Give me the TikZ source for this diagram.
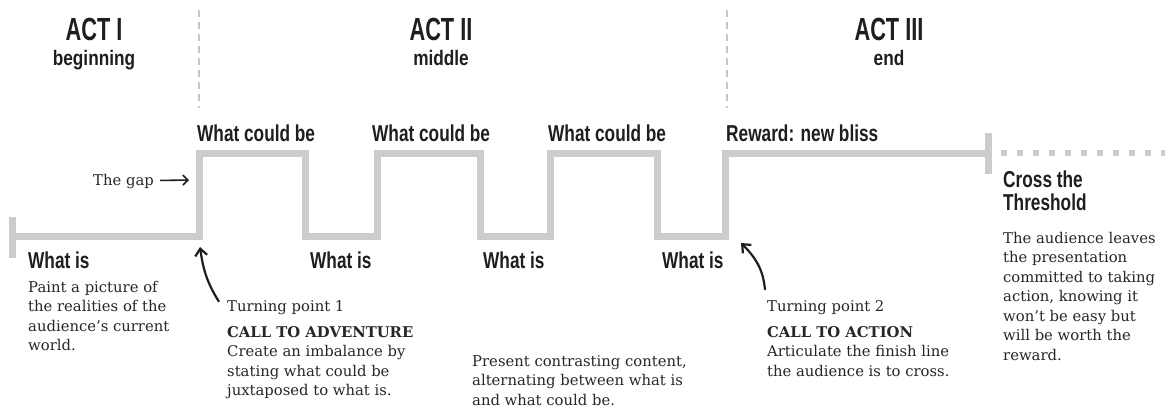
\documentclass[tikz,border=0pt]{standalone}
\usepackage{fontspec}
\setmainfont{DejaVu Serif}
\newfontfamily\condfont[FakeStretch=0.75]{Liberation Sans}
\newfontfamily\actfont[FakeStretch=0.68]{Liberation Sans}
\newfontfamily\subfont[FakeStretch=0.82]{Liberation Sans}
\usetikzlibrary{arrows.meta,positioning}
\definecolor{trackgray}{HTML}{CCCCCC}
\definecolor{inkdark}{HTML}{1E1E1E}
\definecolor{inkbody}{HTML}{262626}

\begin{document}
\begin{tikzpicture}[x=1pt,y=1pt,
  track/.style={line width=7pt, draw=trackgray, line join=miter},
  actdiv/.style={draw=gray!45, line width=1.6pt, dash pattern=on 7pt off 5pt},
  actlabel/.style={font=\actfont\bfseries\fontsize{32}{34}\selectfont, text=inkdark, inner sep=0pt, anchor=base},
  actsub/.style={font=\subfont\bfseries\fontsize{21}{23}\selectfont, text=inkdark, inner sep=0pt, anchor=base},
  steplabel/.style={font=\condfont\bfseries\fontsize{23}{23}\selectfont, text=inkdark, inner sep=0pt, anchor=base west, align=left},
  note/.style={font=\fontsize{14.8}{19.5}\selectfont, text=inkbody, inner sep=0pt, anchor=base west, align=left},
  bentarr/.style={line width=2.2pt, draw=inkdark, -{Straight Barb[length=7pt,width=12pt,line width=2.2pt]}},
  gaparr/.style={line width=1.6pt, draw=inkdark, -{Straight Barb[length=5pt,width=10pt,line width=1.6pt]}}
]
\useasboundingbox (0,0) rectangle (1171,-407);

% act headings
\draw[actdiv] (199,-10) -- (199,-108);
\draw[actdiv] (727,-10) -- (727,-108);
\node[actlabel] (act1) at (94,-40) {ACT I};
\node[actsub] (act1sub) at (94,-65) {beginning};
\node[actlabel] (act2) at (441,-40) {ACT II};
\node[actsub] (act2sub) at (441,-65) {middle};
\node[actlabel] (act3) at (889,-40) {ACT III};
\node[actsub] (act3sub) at (889,-65) {end};

% the track
\draw[track] (12,-236) -- (199,-236) -- (199,-153) -- (305,-153) -- (305,-236)
  -- (377,-236) -- (377,-153) -- (480,-153) -- (480,-236)
  -- (550,-236) -- (550,-153) -- (657,-153) -- (657,-236)
  -- (725,-236) -- (725,-153) -- (988,-153);
\draw[track] (12,-217) -- (12,-258);
\draw[track] (988,-133) -- (988,-174);
\draw[line width=6pt, trackgray, dash pattern=on 6pt off 10pt] (1001,-153) -- (1165,-153);

% step labels (multi-line nodes sit on their last baseline)
\node[steplabel] (could1) at (197,-141) {What could be};
\node[steplabel] (could2) at (372,-141) {What could be};
\node[steplabel] (could3) at (548,-141) {What could be};
\node[steplabel] (reward) at (726,-141) {Reward: new bliss};
\node[steplabel] (is1) at (28,-268) {What is};
\node[steplabel] (is2) at (310,-268) {What is};
\node[steplabel] (is3) at (483,-268) {What is};
\node[steplabel] (is4) at (662,-268) {What is};
\node[steplabel] (cross) at (1003,-210) {Cross the\\Threshold};

% notes
\node[note] (gap) at (93,-185) {The gap};
\coordinate (gapend) at (189,-180);
\draw[gaparr, shorten <=6pt] (gap) -- (gapend);

\node[note] (isnote) at (28,-350.5) {Paint a picture of\\the realities of the\\audience’s current\\world.};
\node[note] (tp1) at (227,-311) {Turning point 1};
\node[note] (tp1note) at (227,-395.5) {\textbf{CALL TO ADVENTURE}\\Create an imbalance by\\stating what could be\\juxtaposed to what is.};
\node[note] (midnote) at (472,-405) {Present contrasting content,\\alternating between what is\\and what could be.};
\node[note] (tp2) at (767,-311) {Turning point 2};
\node[note] (tp2note) at (767,-376) {\textbf{CALL TO ACTION}\\Articulate the finish line\\the audience is to cross.};
\node[note] (crossnote) at (1003,-360) {The audience leaves\\the presentation\\committed to taking\\action, knowing it\\won’t be easy but\\will be worth the\\reward.};

\coordinate (tp1head) at (200,-247);
\coordinate (tp2head) at (741,-243);
\draw[bentarr] ([shift={(-8pt,-2pt)}]tp1.north west) to[out=122,in=-82] (tp1head);
\draw[bentarr] ([shift={(-2pt,10pt)}]tp2.north west) to[out=95,in=-45] (tp2head);
\end{tikzpicture}
\end{document}
